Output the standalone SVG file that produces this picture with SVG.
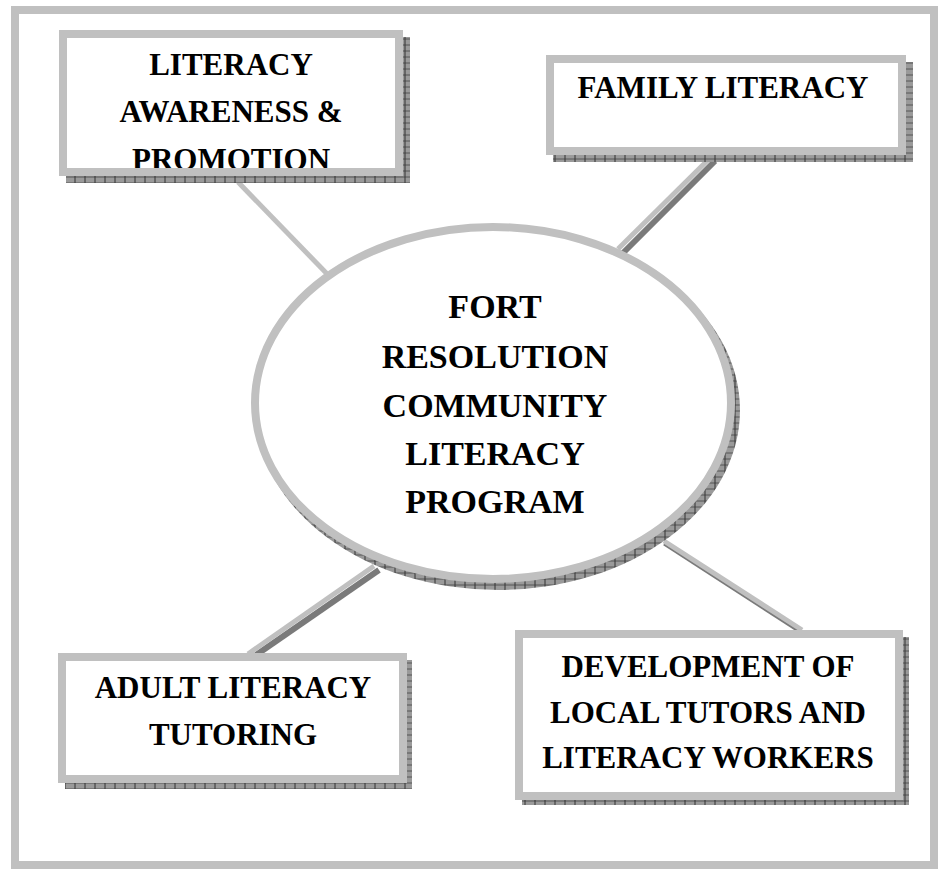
<svg xmlns="http://www.w3.org/2000/svg" width="938" height="869" viewBox="0 0 938 869">
<defs>
<pattern id="hatch" width="10" height="6" patternUnits="userSpaceOnUse">
<rect width="10" height="6" fill="#9a9a9a"/>
<line x1="0" y1="3" x2="10" y2="3" stroke="#555" stroke-width="1"/>
<line x1="5" y1="0" x2="5" y2="6" stroke="#333" stroke-width="1"/>
</pattern>
<style>
.frame{fill:none;stroke:#c0c0c0;stroke-width:8}
.box{fill:none;stroke:#c0c0c0;stroke-width:8}
.bg{fill:#ffffff}
.shadow{fill:url(#hatch)}
.conn{stroke:#c0c0c0;stroke-width:5;stroke-linecap:butt;fill:none}
.connsh{stroke:url(#hatch);stroke-width:5;fill:none}
.connsh2{stroke:#7a7a7a;stroke-width:6;fill:none}
.t{font-family:"Liberation Serif","Times New Roman",serif;font-weight:bold;font-size:31px;fill:#000;text-anchor:middle}
.tc{font-family:"Liberation Serif","Times New Roman",serif;font-weight:bold;font-size:34px;fill:#000;text-anchor:middle}
</style>
</defs>
<rect class="frame" x="15" y="10" width="919" height="855"/>
<g id="connectors">
<line class="conn" x1="238" y1="182" x2="332" y2="279"/>
<line class="connsh2" x1="715" y1="161" x2="623" y2="253"/>
<line class="conn" x1="710" y1="158" x2="618" y2="249"/>
<line class="connsh2" x1="379" y1="570" x2="256" y2="655"/>
<line class="conn" x1="374" y1="566" x2="248" y2="654"/>
<line class="connsh2" x1="664" y1="544" x2="800" y2="632" style="stroke-width:3"/>
<line class="conn" x1="664" y1="541" x2="802" y2="630"/>
</g>
<g id="center">
<ellipse class="shadow" cx="498" cy="410" rx="242" ry="180"/>
<ellipse class="bg" cx="493" cy="403" rx="238" ry="176" style="stroke:#c0c0c0;stroke-width:8"/>
<text class="tc" x="495" y="318">FORT</text>
<text class="tc" x="495" y="368">RESOLUTION</text>
<text class="tc" x="495" y="417">COMMUNITY</text>
<text class="tc" x="495" y="465">LITERACY</text>
<text class="tc" x="495" y="513">PROGRAM</text>
</g>
<g id="awareness">
<rect class="shadow" x="66" y="37" width="344" height="146"/>
<rect class="bg" x="63" y="34" width="336" height="138"/>
<text class="t" x="231" y="75">LITERACY</text>
<text class="t" x="231" y="122">AWARENESS &amp;</text>
<text class="t" x="231" y="170">PROMOTION</text>
<rect class="box" x="63" y="34" width="336" height="138"/>
</g>
<g id="family">
<rect class="shadow" x="553" y="62" width="360" height="100"/>
<rect class="bg" x="550" y="59" width="352" height="92"/>
<text class="t" x="723" y="98">FAMILY LITERACY</text>
<rect class="box" x="550" y="59" width="352" height="92"/>
</g>
<g id="adult">
<rect class="shadow" x="65" y="660" width="347" height="129"/>
<rect class="bg" x="62" y="657" width="341" height="122"/>
<text class="t" x="233" y="698">ADULT LITERACY</text>
<text class="t" x="233" y="745">TUTORING</text>
<rect class="box" x="62" y="657" width="341" height="122"/>
</g>
<g id="development">
<rect class="shadow" x="522" y="637" width="387" height="168"/>
<rect class="bg" x="519" y="634" width="380" height="162"/>
<text class="t" x="708" y="677">DEVELOPMENT OF</text>
<text class="t" x="708" y="723">LOCAL TUTORS AND</text>
<text class="t" x="708" y="768">LITERACY WORKERS</text>
<rect class="box" x="519" y="634" width="380" height="162"/>
</g>
</svg>
